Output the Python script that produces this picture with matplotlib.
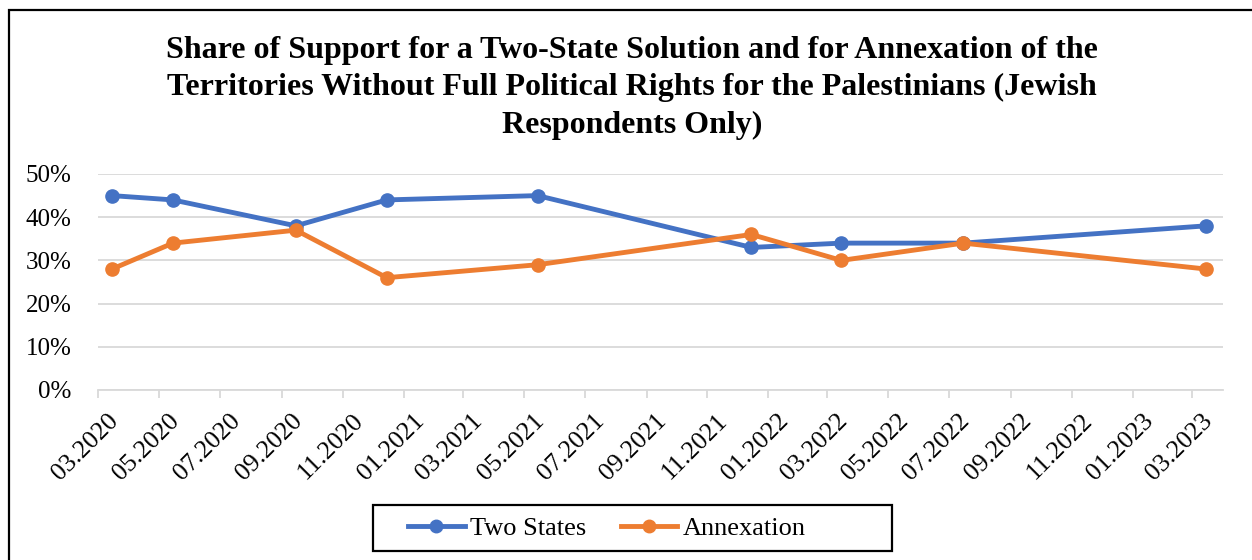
import datetime as dt
import matplotlib
matplotlib.use("Agg")
import matplotlib.pyplot as plt
import matplotlib.dates as mdates
import matplotlib.transforms as mtransforms
from matplotlib.patches import Rectangle
from matplotlib.lines import Line2D
from matplotlib.ticker import PercentFormatter

plt.rcParams['font.family'] = ['Liberation Serif', 'DejaVu Serif']

# survey waves (mid-month) and share of Jewish respondents supporting each option
survey_dates = [dt.date(2020, 3, 15), dt.date(2020, 5, 15), dt.date(2020, 9, 15),
                dt.date(2020, 12, 15), dt.date(2021, 5, 15), dt.date(2021, 12, 15),
                dt.date(2022, 3, 15), dt.date(2022, 7, 15), dt.date(2023, 3, 15)]
two_states = [0.45, 0.44, 0.38, 0.44, 0.45, 0.33, 0.34, 0.34, 0.38]
annexation = [0.28, 0.34, 0.37, 0.26, 0.29, 0.36, 0.30, 0.34, 0.28]
series_names = ['Two States', 'Annexation']
series_colors = ['#4472C4', '#ED7D31']

title = ('Share of Support for a Two-State Solution and for Annexation of the\n'
         'Territories Without Full Political Rights for the Palestinians (Jewish\n'
         'Respondents Only)')

fig = plt.figure(figsize=(12.52, 5.6), dpi=100)
ax = fig.add_axes([98 / 1252, 170 / 560, 1125 / 1252, 216 / 560])

for vals, name, col in zip([two_states, annexation], series_names, series_colors):
    ax.plot(survey_dates, vals, color=col, lw=3.5, marker='o', ms=9.5,
            solid_capstyle='round', label=name)

ax.set_ylim(0, 0.5)
ax.set_xlim(dt.date(2020, 3, 1), dt.date(2023, 4, 1))
ax.yaxis.set_major_locator(plt.MultipleLocator(0.1))
ax.yaxis.set_major_formatter(PercentFormatter(1.0, decimals=0))
ax.xaxis.set_major_locator(mdates.MonthLocator(bymonth=[1, 3, 5, 7, 9, 11]))
ax.xaxis.set_major_formatter(mdates.DateFormatter('%m.%Y'))

ax.grid(axis='y', color='#d9d9d9', lw=1.3)
ax.set_axisbelow(True)
for side in ['top', 'right', 'left']:
    ax.spines[side].set_visible(False)
ax.spines['bottom'].set_color('#d9d9d9')
ax.spines['bottom'].set_linewidth(1.3)

ax.tick_params(axis='y', length=0, pad=19, labelsize=18)
ax.tick_params(axis='x', length=6, width=1.3, color='#d9d9d9', pad=8, labelsize=18.5)
shift = mtransforms.ScaledTranslation(0.09, 0, fig.dpi_scale_trans)
for lab in ax.get_xticklabels():
    lab.set_rotation(45)
    lab.set_rotation_mode('anchor')
    lab.set_ha('right')
    lab.set_va('top')
    lab.set_transform(lab.get_transform() + shift)

fig.text(632 / 1252, 1 - 88 / 560, title, ha='center', va='center',
         fontsize=23, fontweight='bold', linespacing=1.36, multialignment='center')

# legend strip at the bottom
handles = [Line2D([], [], color=c, lw=3.5, marker='o', ms=9) for c in series_colors]
leg = fig.legend(handles, series_names, loc='center left',
                 bbox_to_anchor=(408 / 1252, 1 - 528 / 560), frameon=False,
                 fontsize=19, handlelength=2.15, handletextpad=0.2, columnspacing=1.3,
                 ncol=2, borderpad=0, borderaxespad=0)
fig.patches.append(Rectangle((373 / 1252, 1 - 551 / 560), 519 / 1252, 46 / 560,
                             transform=fig.transFigure, fill=False, ec='black', lw=1.6))

# outer chart border
fig.patches.append(Rectangle((9 / 1252, -0.1), 1.2, 1.1 - 10 / 560,
                             transform=fig.transFigure, fill=False, ec='black', lw=1.6))

fig.savefig('out.png', dpi=100)
